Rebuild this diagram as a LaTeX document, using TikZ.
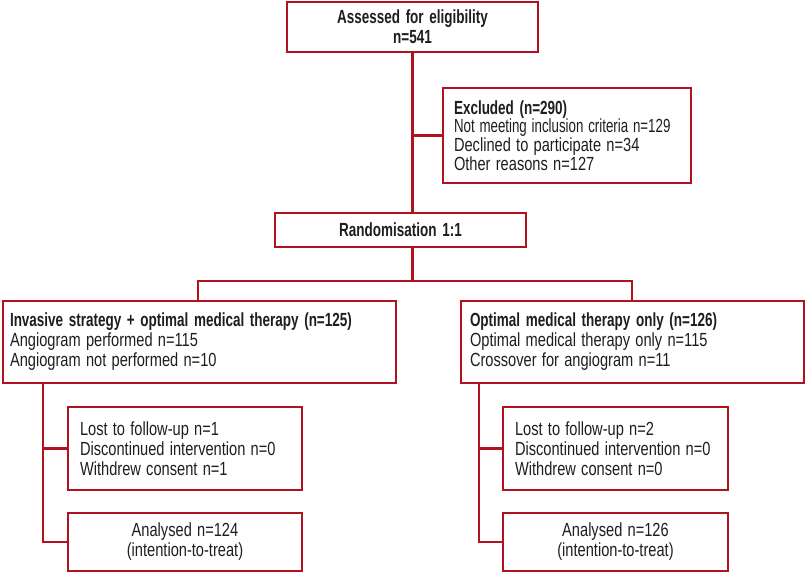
\documentclass[tikz,border=0pt]{standalone}
\usepackage{graphicx}
\usepackage{fontspec}
\setmainfont[FakeStretch=0.77, WordSpace=1.3, BoldFeatures={FakeStretch=0.71, WordSpace=1.5}]{Liberation Sans}
\definecolor{frame}{RGB}{176,18,32}
\definecolor{ink}{RGB}{30,30,30}
\begin{document}
\begin{tikzpicture}[x=1pt,y=-1pt,
  box/.style={draw=frame, line width=2.2pt, text=ink, font=\fontsize{19}{20}\selectfont, inner ysep=0pt},
  conn/.style={draw=frame, line width=2.2pt}]
\useasboundingbox (0,0) rectangle (807,572);
% boxes
\node[box, minimum width=251pt, minimum height=50pt, align=center, font=\fontsize{19}{20}\selectfont\bfseries] (top) at (412.5,27) {Assessed for eligibility\\n=541};
\node[box, minimum height=95pt, inner xsep=11pt, text width=226pt, align=flush left, font=\fontsize{19}{18.6}\selectfont] (excl) at (567,135.5)
  {\textbf{Excluded (n=290)}\\\scalebox{0.91}[1]{Not meeting inclusion criteria n=129}\\Declined to participate n=34\\Other reasons n=127};
\node[box, minimum width=251pt, minimum height=34pt, font=\fontsize{19}{20}\selectfont\bfseries] (rand) at (400.5,230) {Randomisation 1:1};
\node[box, minimum height=82pt, inner xsep=7pt, text width=379pt, align=flush left] (left) at (199.5,342)
  {\textbf{Invasive strategy + optimal medical therapy (n=125)}\\Angiogram performed n=115\\Angiogram not performed n=10};
\node[box, minimum height=82pt, inner xsep=9pt, text width=325pt, align=flush left] (right) at (632.5,342)
  {\textbf{Optimal medical therapy only (n=126)}\\Optimal medical therapy only n=115\\Crossover for angiogram n=11};
\node[box, minimum height=83pt, inner xsep=12pt, text width=210pt, align=flush left] (llost) at (185,448.5)
  {Lost to follow-up n=1\\Discontinued intervention n=0\\Withdrew consent n=1};
\node[box, minimum width=234pt, minimum height=58pt, align=center] (lanal) at (185,542)
  {Analysed n=124\\(intention-to-treat)};
\node[box, minimum height=83pt, inner xsep=12pt, text width=201pt, align=flush left] (rlost) at (615.5,448.5)
  {Lost to follow-up n=2\\Discontinued intervention n=0\\Withdrew consent n=0};
\node[box, minimum width=225pt, minimum height=58pt, align=center] (ranal) at (615.5,542)
  {Analysed n=126\\(intention-to-treat)};
% connectors
\coordinate (split) at (412.5,281);
\coordinate (lj) at (198,281);
\coordinate (rj) at (632,281);
\coordinate (lx) at (43,0);
\coordinate (rx) at (479,0);
\draw[conn] (top.south) -- (top.south |- rand.north);
\draw[conn] (top.south |- excl.west) -- (excl.west);
\draw[conn] (top.south |- rand.south) -- (split);
\draw[conn] (lj |- left.north) -- (lj) -- (rj) -- (rj |- right.north);
\draw[conn] (lx |- left.south) -- (lx |- lanal.west) -- (lanal.west);
\draw[conn] (lx |- llost.west) -- (llost.west);
\draw[conn] (rx |- right.south) -- (rx |- ranal.west) -- (ranal.west);
\draw[conn] (rx |- rlost.west) -- (rlost.west);
\end{tikzpicture}
\end{document}
